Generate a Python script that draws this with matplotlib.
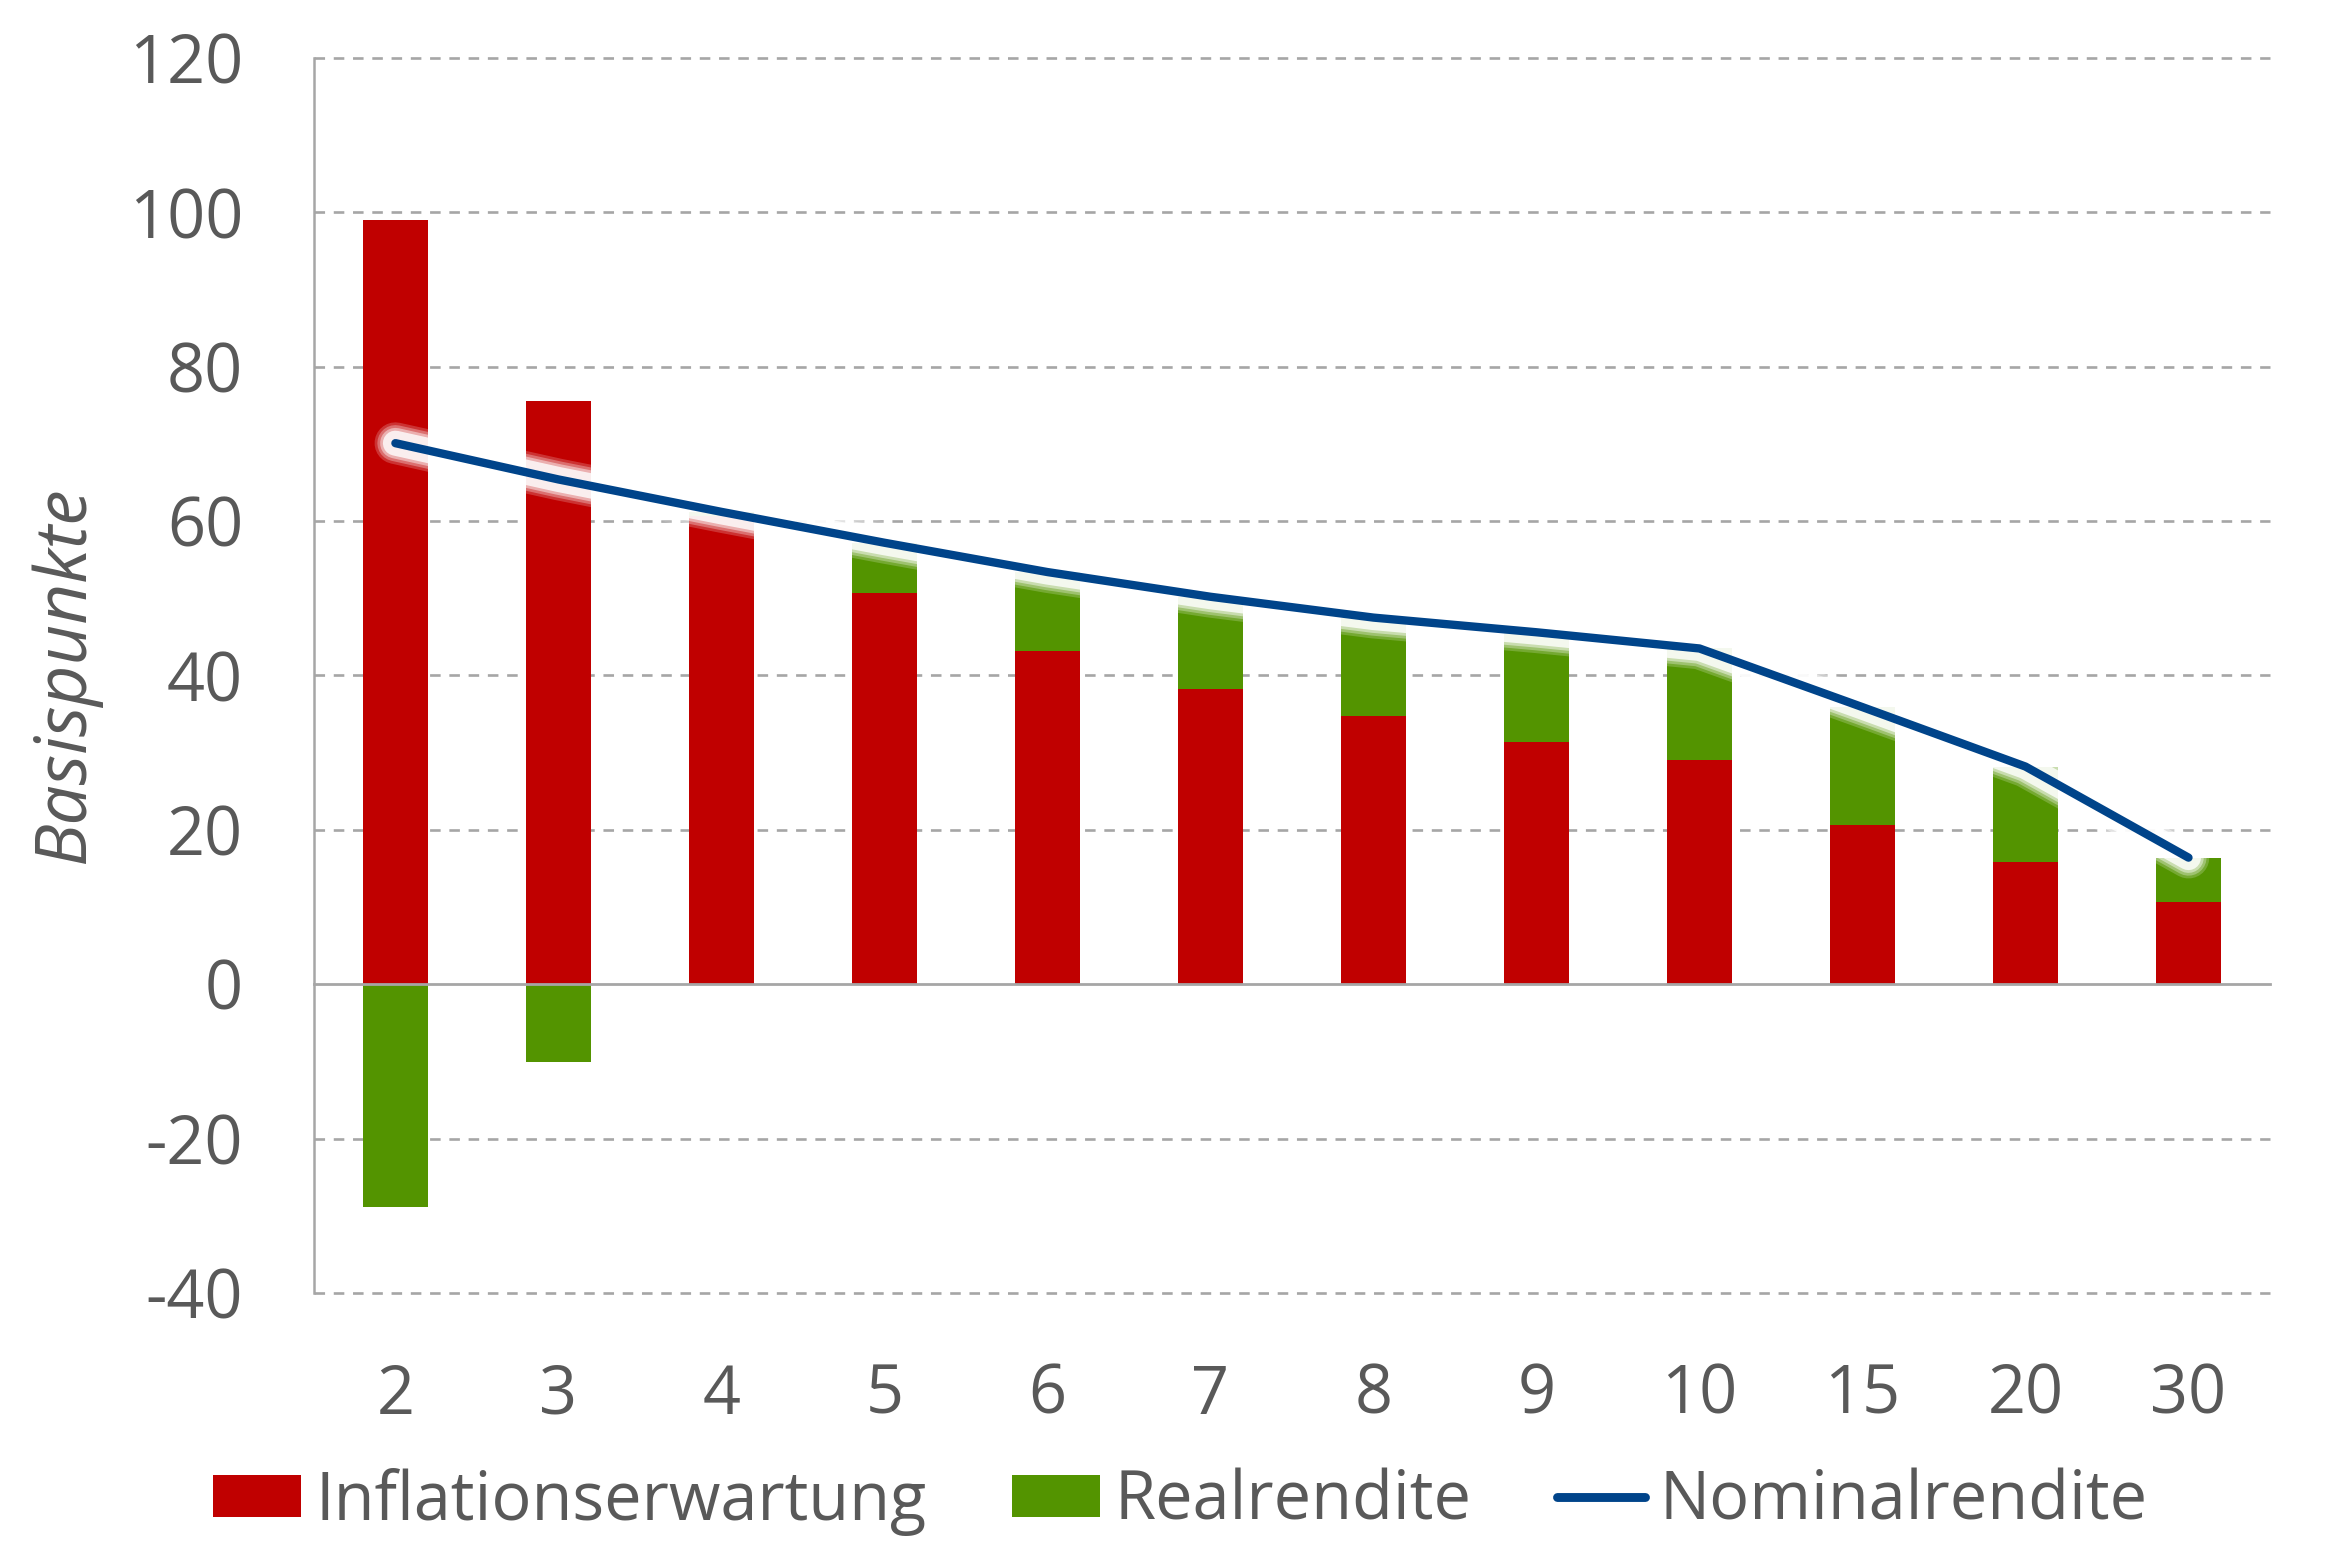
import matplotlib
matplotlib.use("Agg")
import matplotlib.pyplot as plt
import matplotlib.patheffects as pe
import numpy as np

categories = ["2", "3", "4", "5", "6", "7", "8", "9", "10", "15", "20", "30"]
inflation = [99.0, 75.6, 60.7, 50.7, 43.2, 38.2, 34.8, 31.4, 29.1, 20.6, 15.8, 10.7]
real = [-28.9, -10.1, 0.5, 6.5, 10.2, 12.0, 12.7, 14.2, 14.4, 15.3, 12.3, 5.6]
nominal = [70.1, 65.4, 61.2, 57.2, 53.4, 50.2, 47.5, 45.6, 43.5, 35.9, 28.2, 16.4]
yticks = [-40, -20, 0, 20, 40, 60, 80, 100, 120]

RED = "#C00000"
GREEN = "#539400"
BLUE = "#00448A"
GRAY = "#595959"
GRID = "#A6A6A6"

plt.rcParams["font.family"] = ["Open Sans", "DejaVu Sans"]
FS = 24

fig = plt.figure(figsize=(11.695, 7.8), dpi=200)
ax = fig.add_axes([0.1342, 0.1712, 0.8363, 0.7916])

x = np.arange(len(categories))
w = 0.40
inf = np.array(inflation)
re = np.array(real)
bottom_real = np.where(re >= 0, inf, 0)
ax.bar(x, inf, width=w, color=RED, zorder=2, label="Inflationserwartung")
ax.bar(x, re, width=w, bottom=bottom_real, color=GREEN, zorder=2, label="Realrendite")

glow = [pe.Stroke(linewidth=w_, foreground="white", alpha=a) for w_, a in
        [(15, 0.2), (13, 0.3), (11, 0.45), (9, 0.8)]] + [pe.Normal()]
ln, = ax.plot(x, nominal, color=BLUE, linewidth=3.0, solid_capstyle="round",
              solid_joinstyle="round", zorder=4, label="Nominalrendite")
ln.set_path_effects(glow)

ax.set_xlim(-0.5, len(categories) - 0.5)
ax.set_ylim(-40, 120)
ax.set_yticks(yticks)
ax.set_yticklabels([str(v) for v in yticks])
ax.set_xticks(x)
ax.set_xticklabels(categories)

for v in yticks:
    if v == 0:
        ax.axhline(0, color=GRID, linewidth=1.0, zorder=3, clip_on=False)
    else:
        ax.axhline(v, color=GRID, linewidth=0.95, linestyle=(0, (4, 3.3)), zorder=1,
                   clip_on=False)

for s in ["top", "right", "bottom"]:
    ax.spines[s].set_visible(False)
ax.spines["left"].set_color(GRID)
ax.spines["left"].set_linewidth(0.9)

ax.tick_params(axis="both", length=0, labelsize=FS, colors=GRAY)
ax.tick_params(axis="x", pad=25)
ax.tick_params(axis="y", pad=25.5)

ax.set_ylabel("Basispunkte", fontsize=25.5, color=GRAY, style="italic")
ax.yaxis.set_label_coords(-0.109, 0.5)

handles, labels = ax.get_legend_handles_labels()
order = [1, 2, 0]
leg = fig.legend([handles[i] for i in order], [labels[i] for i in order],
                 loc="center", bbox_to_anchor=(0.5046, 0.0375), ncol=3, frameon=False,
                 fontsize=FS, handlelength=1.32, handleheight=0.6,
                 handletextpad=0.21, columnspacing=1.29, labelcolor=GRAY,
                 borderpad=0, borderaxespad=0)
for h in leg.legend_handles:
    if isinstance(h, matplotlib.lines.Line2D):
        h.set_path_effects([pe.Normal()])
        h.set_solid_capstyle("round")
        h.set_linewidth(3.2)

fig.savefig("out.png", dpi=200, facecolor="white")
